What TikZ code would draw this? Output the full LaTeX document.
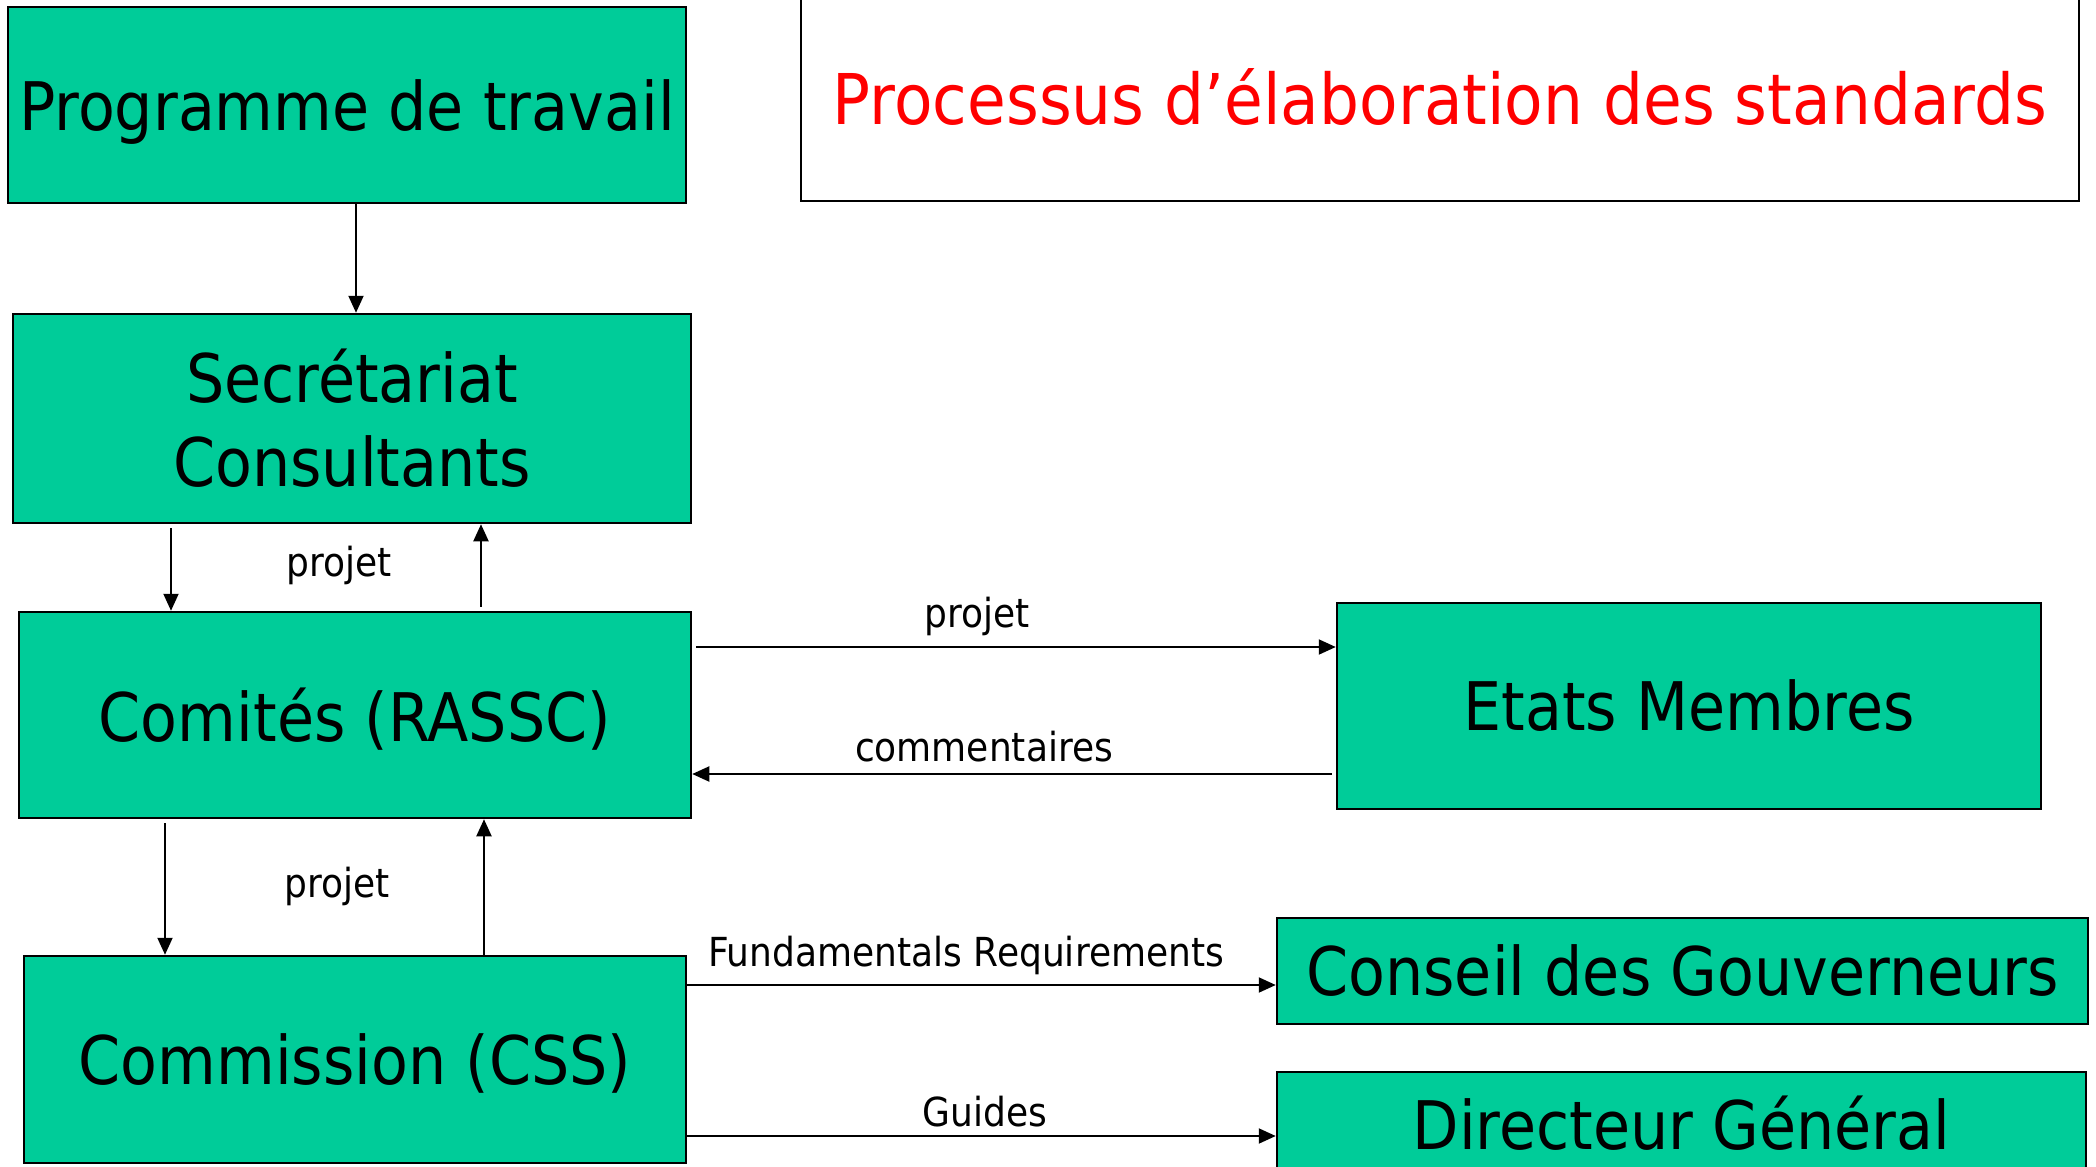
\documentclass[tikz,border=0pt]{standalone}
\usepackage{fontspec}
\setmainfont[FakeStretch=0.9]{DejaVu Sans}
\usetikzlibrary{arrows.meta,calc}
\definecolor{boxgreen}{RGB}{0,204,153}
\begin{document}
\begin{tikzpicture}[x=1pt,y=-1pt,
  gbox/.style={draw=black, line width=2.5pt, fill=boxgreen, inner sep=0pt, align=center,
    font=\fontsize{67}{84}\selectfont},
  nodepth/.style={text depth=0pt},
  lbl/.style={font=\fontsize{40}{48}\selectfont, inner sep=0pt},
  arr/.style={line width=2pt, -{Triangle[length=17pt,width=15pt]}}]
\useasboundingbox (0,0) rectangle (2096,1167);
\clip (0,0) rectangle (2096,1167);
% boxes
\node[gbox, nodepth, minimum width=678pt, minimum height=196pt] (prog) at (347,105) {Programme de travail};
\node[draw=black, line width=2.5pt, fill=white, inner sep=0pt, text=red,
      font=\fontsize{70}{84}\selectfont, minimum width=1278pt, minimum height=203pt] (title) at (1440,99.5) {};
\node[text=red, font=\fontsize{70}{84}\selectfont, inner sep=0pt] (titletext) at (1440,97) {Processus d’élaboration des standards};
\node[gbox, minimum width=678pt, minimum height=209pt] (sec) at (352,418.5) {Secrétariat\\Consultants};
\node[gbox, nodepth, minimum width=672pt, minimum height=206pt] (com) at (355,715) {Comités (RASSC)};
\node[gbox, nodepth, minimum width=662pt, minimum height=207pt] (cmn) at (355,1059.5) {Commission (CSS)};
\node[gbox, minimum width=704pt, minimum height=206pt] (etats) at (1689,706) {Etats Membres};
\node[gbox, minimum width=811pt, minimum height=106pt] (cons) at (1682.5,971) {Conseil des Gouverneurs};
\node[gbox, minimum width=809pt, minimum height=103pt] (dir) at (1681.5,1123.5) {Directeur Général};
% helper coordinates
\coordinate (xa) at (356,0);
\coordinate (xb) at (171,0);
\coordinate (xc) at (481,0);
\coordinate (xd) at (165,0);
\coordinate (xe) at (484,0);
\coordinate (ya) at (0,647);
\coordinate (yb) at (0,774);
\coordinate (yc) at (0,985);
\coordinate (yd) at (0,1136);
% connectors
\draw[arr] (prog.south -| xa) -- (sec.north -| xa);
\draw[arr, shorten <=4pt] (sec.south -| xb) -- (com.north -| xb);
\draw[arr, shorten <=4pt] (com.north -| xc) -- (sec.south -| xc);
\draw[arr, shorten <=4pt] (com.south -| xd) -- (cmn.north -| xd);
\draw[arr] (cmn.north -| xe) -- (com.south -| xe);
\draw[arr, shorten <=4pt] (com.east |- ya) -- (etats.west |- ya);
\draw[arr, shorten <=4pt] (etats.west |- yb) -- (com.east |- yb);
\draw[arr] (cmn.east |- yc) -- (cons.west |- yc);
\draw[arr] (cmn.east |- yd) -- (dir.west |- yd);
% labels
\node[lbl] (l1) at (339,565) {projet};
\node[lbl] (l2) at (977,616) {projet};
\node[lbl] (l3) at (984,747) {commentaires};
\node[lbl] (l4) at (337,886) {projet};
\node[lbl] (l5) at (966,955) {Fundamentals Requirements};
\node[lbl] (l6) at (985,1112) {Guides};
\end{tikzpicture}
\end{document}
